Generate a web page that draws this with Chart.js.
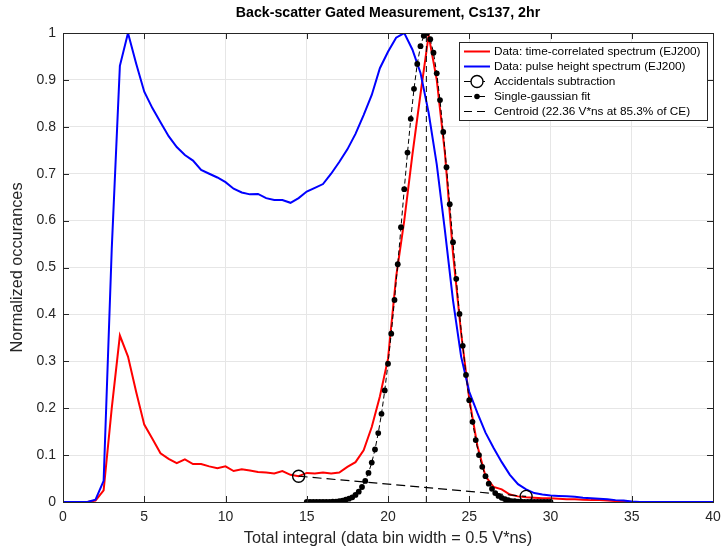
<!DOCTYPE html>
<html><head><meta charset="utf-8">
<script src="https://cdn.jsdelivr.net/npm/chart.js@4.4.0/dist/chart.umd.min.js"></script>
<style>html,body{margin:0;padding:0;background:#fff}#wrap{width:723px;height:550px;position:relative}</style>
</head><body><div id="wrap"><canvas id="c"></canvas></div>
<script>
const titleText = 'Back-scatter Gated Measurement, Cs137, 2hr';
const xLabel = 'Total integral (data bin width = 0.5 V*ns)';
const yLabel = 'Normalized occurances';
const xTickLabels = ['0','5','10','15','20','25','30','35','40'];
const yTickLabels = ['0','0.1','0.2','0.3','0.4','0.5','0.6','0.7','0.8','0.9','1'];

const binX = [0,0.5,1,1.5,2,2.5,3,3.5,4,4.5,5,5.5,6,6.5,7,7.5,8,8.5,9,9.5,10,10.5,11,11.5,12,12.5,13,13.5,14,14.5,15,15.5,16,16.5,17,17.5,18,18.5,19,19.5,20,20.5,21,21.5,22,22.5,23,23.5,24,24.5,25,25.5,26,26.5,27,27.5,28,28.5,29,29.5,30,30.5,31,31.5,32,32.5,33,33.5,34,34.5,35,35.5,36,36.5,37,37.5,38,38.5,39,39.5,40];

const timeCorrelated = [0,0,0,0,0.003,0.025,0.2,0.355,0.31,0.235,0.165,0.135,0.104,0.092,0.083,0.091,0.081,0.081,0.076,0.072,0.076,0.066,0.07,0.067,0.064,0.063,0.061,0.066,0.058,0.055,0.062,0.061,0.063,0.061,0.063,0.075,0.085,0.11,0.16,0.225,0.305,0.48,0.6,0.74,0.87,0.995,0.9,0.745,0.53,0.36,0.22,0.12,0.055,0.032,0.027,0.016,0.012,0.01,0.009,0.008,0.008,0.007,0.006,0.006,0.005,0.004,0.004,0.003,0.002,0.001,0,0,0,0,0,0,0,0,0,0,0];

const pulseHeight = [0,0,0,0,0.005,0.045,0.54,0.93,1.0,0.935,0.875,0.84,0.81,0.78,0.757,0.74,0.728,0.708,0.7,0.692,0.682,0.668,0.66,0.656,0.657,0.648,0.644,0.644,0.638,0.648,0.662,0.67,0.678,0.7,0.725,0.752,0.785,0.825,0.868,0.925,0.96,0.99,1.0,0.965,0.915,0.83,0.72,0.58,0.43,0.31,0.235,0.19,0.148,0.115,0.085,0.058,0.038,0.027,0.019,0.016,0.014,0.013,0.012,0.011,0.009,0.008,0.007,0.006,0.004,0.003,0.001,0,0,0,0,0,0,0,0,0,0];

const fitX = [15,15.2,15.4,15.6,15.8,16,16.2,16.4,16.6,16.8,17,17.2,17.4,17.6,17.8,18,18.2,18.4,18.6,18.8,19,19.2,19.4,19.6,19.8,20,20.2,20.4,20.6,20.8,21,21.2,21.4,21.6,21.8,22,22.2,22.4,22.6,22.8,23,23.2,23.4,23.6,23.8,24,24.2,24.4,24.6,24.8,25,25.2,25.4,25.6,25.8,26,26.2,26.4,26.6,26.8,27,27.2,27.4,27.6,27.8,28,28.2,28.4,28.6,28.8,29,29.2,29.4,29.6,29.8,30];

const fitY = [0,0,0,0,0,0,0,0,0.001,0.001,0.002,0.003,0.005,0.007,0.010,0.015,0.022,0.032,0.045,0.062,0.084,0.112,0.147,0.188,0.238,0.295,0.359,0.431,0.507,0.586,0.667,0.745,0.817,0.881,0.934,0.972,0.994,1.0,0.987,0.958,0.914,0.857,0.789,0.714,0.635,0.554,0.476,0.401,0.333,0.271,0.217,0.171,0.132,0.100,0.075,0.055,0.039,0.028,0.019,0.013,0.009,0.006,0.004,0.002,0.002,0.001,0.001,0,0,0,0,0,0,0,0,0];

const accidentalsX = [14.5, 28.5];
const accidentalsY = [0.055, 0.012];
const centroidX = [22.36, 22.36];
const centroidY = [0, 1];

const legendLabels = [
  'Data: time-correlated spectrum (EJ200)',
  'Data: pulse height spectrum (EJ200)',
  'Accidentals subtraction',
  'Single-gaussian fit',
  'Centroid (22.36 V*ns at 85.3% of CE)'
];

const FONT = "'Liberation Sans', Arial, Helvetica, sans-serif";
const pts = (xs, ys) => xs.map((x, i) => ({x: x, y: ys[i]}));

const frame = {
  id: 'frame',
  afterDatasetsDraw(chart) {
    const {ctx, chartArea: a, scales} = chart;
    ctx.save();
    ctx.strokeStyle = '#262626';
    ctx.lineWidth = 1;
    ctx.beginPath();
    const tl = 6;
    for (let i = 1; i < xTickLabels.length - 1; i++) {
      const px = Math.round(scales.x.getPixelForValue(i * 5)) + 0.5;
      ctx.moveTo(px, a.bottom); ctx.lineTo(px, a.bottom - tl);
      ctx.moveTo(px, a.top); ctx.lineTo(px, a.top + tl);
    }
    for (let i = 1; i < yTickLabels.length - 1; i++) {
      const py = Math.round(scales.y.getPixelForValue(i / 10)) + 0.5;
      ctx.moveTo(a.left, py); ctx.lineTo(a.left + tl, py);
      ctx.moveTo(a.right, py); ctx.lineTo(a.right - tl, py);
    }
    ctx.stroke();
    ctx.strokeRect(Math.round(a.left) + 0.5, Math.round(a.top) + 0.5, Math.round(a.right - a.left), Math.round(a.bottom - a.top));
    ctx.restore();
  },
  afterDraw(chart) {
    const ctx = chart.ctx;
    const bx = 459, by = 42, bw = 248, bh = 78;
    ctx.save();
    ctx.fillStyle = '#fff';
    ctx.fillRect(bx, by, bw, bh);
    ctx.strokeStyle = '#262626';
    ctx.lineWidth = 1;
    ctx.strokeRect(bx + 0.5, by + 0.5, bw, bh);
    const rows = [51.5, 66.5, 81.5, 96.5, 111.5];
    const x0 = 464, x1 = 490, xm = 477;
    ctx.font = '11.8px ' + FONT;
    ctx.textBaseline = 'middle';
    ctx.fillStyle = '#000';
    rows.forEach((y, i) => {
      ctx.save();
      if (i === 0 || i === 1) {
        ctx.strokeStyle = i === 0 ? '#ff0000' : '#0000ff';
        ctx.lineWidth = 2;
        ctx.beginPath(); ctx.moveTo(x0, y); ctx.lineTo(x1, y); ctx.stroke();
      } else {
        ctx.strokeStyle = '#000';
        ctx.lineWidth = 1.2;
        ctx.setLineDash([8, 5]);
        ctx.beginPath(); ctx.moveTo(x0, y); ctx.lineTo(x1, y); ctx.stroke();
        ctx.setLineDash([]);
        if (i === 2) {
          ctx.fillStyle = '#fff';
          ctx.lineWidth = 1.4;
          ctx.beginPath(); ctx.arc(xm, y, 6, 0, Math.PI * 2); ctx.fill(); ctx.stroke();
        } else if (i === 3) {
          ctx.fillStyle = '#000';
          ctx.beginPath(); ctx.arc(xm, y, 2.8, 0, Math.PI * 2); ctx.fill();
        }
      }
      ctx.restore();
      ctx.fillText(legendLabels[i], 494, y);
    });
    ctx.restore();
  }
};

new Chart(document.getElementById('c'), {
  type: 'line',
  data: {
    datasets: [
      {label: legendLabels[0], data: pts(binX, timeCorrelated), borderColor: '#ff0000', borderWidth: 2, pointRadius: 0, order: 5, tension: 0},
      {label: legendLabels[1], data: pts(binX, pulseHeight), borderColor: '#0000ff', borderWidth: 2, pointRadius: 0, order: 4, tension: 0},
      {label: legendLabels[2], data: pts(accidentalsX, accidentalsY), borderColor: '#000', borderWidth: 1.2, borderDash: [9, 5], pointRadius: 6, pointBorderWidth: 1.4, pointBorderColor: '#000', pointBackgroundColor: 'rgba(0,0,0,0)', order: 3},
      {label: legendLabels[3], data: pts(fitX, fitY), borderColor: '#000', borderWidth: 1, borderDash: [5, 3], pointRadius: 2.9, pointBorderWidth: 0, pointBackgroundColor: '#000', order: 2},
      {label: legendLabels[4], data: pts(centroidX, centroidY), borderColor: '#000', borderWidth: 1, borderDash: [6, 4], pointRadius: 0, order: 1}
    ]
  },
  options: {
    responsive: true,
    maintainAspectRatio: false,
    animation: false,
    events: [],
    layout: {padding: {left: 0, right: 10, top: 0, bottom: 0}},
    plugins: {
      legend: {display: false},
      tooltip: {enabled: false},
      title: {display: true, text: titleText, color: '#000', fullSize: false,
        font: {family: FONT, size: 14.2, weight: 'bold'}, padding: {top: 5, bottom: 11}}
    },
    scales: {
      x: {
        type: 'linear', min: 0, max: 40,
        afterFit: (s) => { s.height = 48; s.paddingLeft = 0; s.paddingRight = 0; },
        ticks: {stepSize: 5, color: '#262626', font: {family: FONT, size: 14}, padding: 7, maxRotation: 0,
          callback: (v) => xTickLabels[Math.round(v / 5)]},
        grid: {color: '#e6e6e6', drawTicks: false},
        border: {display: true, color: '#262626', width: 1},
        title: {display: true, text: xLabel, color: '#262626', font: {family: FONT, size: 16.3}, padding: {top: 0, bottom: 2}}
      },
      y: {
        type: 'linear', min: 0, max: 1,
        afterFit: (s) => { s.width = 63; s.paddingTop = 0; s.paddingBottom = 0; },
        ticks: {stepSize: 0.1, color: '#262626', font: {family: FONT, size: 14}, padding: 7,
          callback: (v) => yTickLabels[Math.round(v * 10)]},
        grid: {color: '#e6e6e6', drawTicks: false},
        border: {display: true, color: '#262626', width: 1},
        title: {display: true, text: yLabel, color: '#262626', font: {family: FONT, size: 16.3}, padding: {top: 8, bottom: 0}}
      }
    }
  },
  plugins: [frame]
});
</script>
</body></html>
